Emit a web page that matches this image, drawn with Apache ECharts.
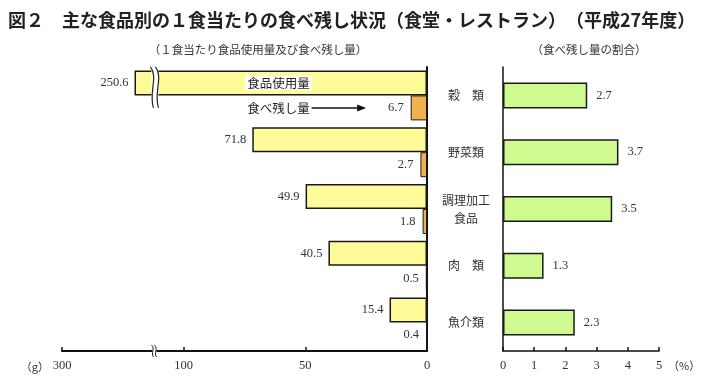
<!DOCTYPE html>
<html><head><meta charset="utf-8">
<script src="https://cdn.jsdelivr.net/npm/echarts@6/dist/echarts.min.js"></script>
<style>html,body{margin:0;padding:0;background:#fff}#c{width:701px;height:378px}</style>
</head><body><div id="c"></div>
<script>
// ---- data ----
const categories = ['穀　類', '野菜類', '調理加工\n食品', '肉　類', '魚介類'];
const usedAmount = [250.6, 71.8, 49.9, 40.5, 15.4];      // 食品使用量 (g)
const leftoverAmount = [6.7, 2.7, 1.8, 0.5, 0.4];        // 食べ残し量 (g)
const leftoverRate = [2.7, 3.7, 3.5, 1.3, 2.3];          // 食べ残し量の割合 (%)
const leftTickLabels = ['0', '50', '100', '300'];
const rightTickLabels = ['0', '1', '2', '3', '4', '5'];

// broken axis (left chart): linear up to BREAK_FROM, then compressed from BREAK_TO to AXIS_END
const BREAK_FROM = 112, BREAK_TO = 237, AXIS_END = 300, AXIS_SPAN = 150;
function toAxis(v) {
  if (v <= BREAK_FROM) return v;
  return BREAK_FROM + (v - BREAK_TO) * (AXIS_SPAN - BREAK_FROM) / (AXIS_END - BREAK_TO);
}

const SERIF = '"Liberation Serif", "DejaVu Serif", serif';
const CJK = '"Noto Sans CJK JP", sans-serif';
const chart = echarts.init(document.getElementById('c'), null, {renderer: 'canvas'});

const option = {
  animation: false,
  backgroundColor: '#fff',
  title: [
    {text: '図２　主な食品別の１食当たりの食べ残し状況（食堂・レストラン）　（平成27年度）', left: 3, top: 6,
     textStyle: {fontFamily: CJK, fontSize: 18, fontWeight: 'bold', color: '#222'}},
    {text: '（１食当たり食品使用量及び食べ残し量）', left: 253, top: 39, textAlign: 'center',
     textStyle: {fontFamily: CJK, fontSize: 11.5, fontWeight: 'normal', color: '#333'}},
    {text: '（食べ残し量の割合）', left: 584, top: 39, textAlign: 'center',
     textStyle: {fontFamily: CJK, fontSize: 11.5, fontWeight: 'normal', color: '#333'}}
  ],
  grid: [
    {left: 62, right: 274, top: 67, bottom: 27},
    {left: 503, right: 42, top: 67, bottom: 27}
  ],
  xAxis: [
    {gridIndex: 0, type: 'value', inverse: true, min: 0, max: AXIS_SPAN, interval: 50,
     axisLine: {show: true, lineStyle: {color: '#111', width: 2}},
     axisTick: {show: true, inside: true, length: 4, lineStyle: {color: '#111', width: 1.5}},
     splitLine: {show: false},
     axisLabel: {fontFamily: SERIF, fontSize: 12.5, color: '#333', margin: 8,
       formatter: v => leftTickLabels[Math.round(v / 50)]}},
    {gridIndex: 1, type: 'value', min: 0, max: 5, interval: 1,
     axisLine: {show: true, lineStyle: {color: '#111', width: 1.5}},
     axisTick: {show: true, inside: true, length: 4, lineStyle: {color: '#111', width: 1.5}},
     splitLine: {show: false},
     axisLabel: {fontFamily: SERIF, fontSize: 12.5, color: '#333', margin: 8,
       formatter: v => rightTickLabels[Math.round(v)]}}
  ],
  yAxis: [
    {gridIndex: 0, type: 'category', data: categories, inverse: true, position: 'right',
     axisLine: {show: true, lineStyle: {color: '#111', width: 2}},
     axisTick: {show: false}, axisLabel: {show: false}},
    {gridIndex: 1, type: 'category', data: categories, inverse: true, position: 'left',
     axisLine: {show: true, lineStyle: {color: '#111', width: 1.5}},
     axisTick: {show: false},
     axisLabel: {fontFamily: CJK, fontSize: 12, color: '#333', align: 'center', margin: 37, lineHeight: 18}}
  ],
  series: [
    {type: 'bar', name: '食品使用量', xAxisIndex: 0, yAxisIndex: 0, barWidth: 25, barGap: '0%',
     data: usedAmount.map(toAxis),
     itemStyle: {color: '#FFFB98', borderColor: '#1a1a1a', borderWidth: 1.5},
     label: {show: true, position: 'left', distance: 6, fontFamily: SERIF, fontSize: 12.5, color: '#333',
       formatter: p => usedAmount[p.dataIndex].toFixed(1)}},
    {type: 'bar', name: '食べ残し量', xAxisIndex: 0, yAxisIndex: 0, barWidth: 25, barGap: '0%',
     data: leftoverAmount,
     itemStyle: {color: '#EFB24C', borderColor: '#1a1a1a', borderWidth: 1},
     label: {show: true, position: 'left', distance: 7, fontFamily: SERIF, fontSize: 12.5, color: '#333',
       formatter: p => leftoverAmount[p.dataIndex].toFixed(1)}},
    {type: 'bar', name: '割合', xAxisIndex: 1, yAxisIndex: 1, barWidth: 26,
     data: leftoverRate,
     itemStyle: {color: '#CFFA90', borderColor: '#1a1a1a', borderWidth: 1.5},
     label: {show: true, position: 'right', distance: 9, fontFamily: SERIF, fontSize: 12.5, color: '#333',
       formatter: p => leftoverRate[p.dataIndex].toFixed(1)}}
  ]
};
chart.setOption(option);

// ---- annotations (positions derived from the axes) ----
const px = (v, c) => chart.convertToPixel({gridIndex: 0}, [v, c]);
const bandTop = px(0, 0)[1];
const breakX = px(BREAK_FROM, 0)[0];
const yCenter = bandTop - 12.5;     // yellow bar centre
const oCenter = bandTop + 12.5;     // orange bar centre
const axisY = px(0, 4)[1] + (px(0, 4)[1] - px(0, 3)[1]) / 2;
const textX = px(61, 0)[0];
const arrowEnd = px(25, 0)[0];
const rp = (v, c) => chart.convertToPixel({gridIndex: 1}, [v, c]);
const pctX = rp(5, 4)[0];

const graphics = [
  // bar break
  {type: 'rect', shape: {x: breakX - 3, y: yCenter - 15, width: 7, height: 30}, style: {fill: '#fff'}, z: 100},
  {type: 'bezierCurve', shape: {x1: breakX - 4, y1: yCenter - 16, cpx1: breakX + 4, cpy1: yCenter - 6, cpx2: breakX - 6, cpy2: yCenter + 10, x2: breakX - 1, y2: yCenter + 25},
   style: {stroke: '#222', lineWidth: 1.2, fill: null}, z: 101},
  {type: 'bezierCurve', shape: {x1: breakX + 1, y1: yCenter - 16, cpx1: breakX + 9, cpy1: yCenter - 6, cpx2: breakX - 1, cpy2: yCenter + 10, x2: breakX + 4, y2: yCenter + 25},
   style: {stroke: '#222', lineWidth: 1.2, fill: null}, z: 101},
  // axis break
  {type: 'rect', shape: {x: breakX - 2, y: axisY - 3, width: 4, height: 6}, style: {fill: '#fff'}, z: 100},
  {type: 'bezierCurve', shape: {x1: breakX - 3, y1: axisY - 6, cpx1: breakX + 1, cpy1: axisY - 2, cpx2: breakX - 4, cpy2: axisY + 2, x2: breakX - 1, y2: axisY + 6},
   style: {stroke: '#222', lineWidth: 1, fill: null}, z: 101},
  {type: 'bezierCurve', shape: {x1: breakX, y1: axisY - 6, cpx1: breakX + 4, cpy1: axisY - 2, cpx2: breakX - 1, cpy2: axisY + 2, x2: breakX + 2, y2: axisY + 6},
   style: {stroke: '#222', lineWidth: 1, fill: null}, z: 101},
  // in-bar annotation
  {type: 'text', x: textX, y: yCenter, z: 102,
   style: {text: '食品使用量', fontFamily: CJK, fontSize: 12.5, fill: '#222', align: 'center', verticalAlign: 'middle',
     backgroundColor: '#fff', padding: [1, 2]}},
  {type: 'text', x: textX, y: oCenter, z: 102,
   style: {text: '食べ残し量', fontFamily: CJK, fontSize: 12.5, fill: '#222', align: 'center', verticalAlign: 'middle'}},
  {type: 'line', shape: {x1: textX + 33, y1: oCenter, x2: arrowEnd - 6, y2: oCenter}, style: {stroke: '#111', lineWidth: 1.5}, z: 102},
  {type: 'polygon', shape: {points: [[arrowEnd, oCenter], [arrowEnd - 9, oCenter - 3.5], [arrowEnd - 9, oCenter + 3.5]]}, style: {fill: '#111'}, z: 102},
  // units
  {type: 'text', x: px(AXIS_SPAN, 0)[0] - 13, y: axisY + 16, z: 102,
   style: {text: '（g）', fontFamily: CJK, fontSize: 11, fill: '#333', align: 'right', verticalAlign: 'middle'}},
  {type: 'text', x: pctX + 9, y: axisY + 15, z: 102,
   style: {text: '（%）', fontFamily: CJK, fontSize: 11, fill: '#333', align: 'left', verticalAlign: 'middle'}}
];
chart.setOption({graphic: graphics});
</script>
</body></html>
